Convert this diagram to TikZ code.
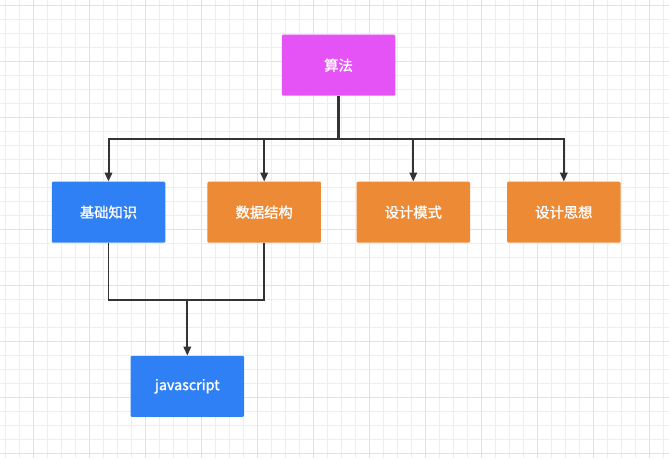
\documentclass[tikz,border=0pt]{standalone}
\usepackage{fontspec}
\setmainfont{Noto Sans CJK SC}
\newfontfamily\boxfont{Noto Sans CJK SC}[FakeBold=1.3]
\usetikzlibrary{arrows.meta}
\definecolor{gridlight}{HTML}{EEEEEE}
\definecolor{griddark}{HTML}{E2E2E2}
\definecolor{cmag}{HTML}{E552F5}
\definecolor{cblue}{HTML}{2F80F5}
\definecolor{corange}{HTML}{EC8A36}
\definecolor{cline}{HTML}{333333}
\tikzset{
  box/.style={minimum width=113.5pt, minimum height=61pt, inner sep=0pt,
    rounded corners=1.2pt, text=white, font=\boxfont\fontsize{14.3}{16}\selectfont},
  magbox/.style={box, fill=cmag},
  bluebox/.style={box, fill=cblue},
  orbox/.style={box, fill=corange},
  arr/.style={draw=cline, line width=2pt, -{Triangle[length=9pt,width=7.5pt]}},
  plainline/.style={draw=cline, line width=1.6pt},
  trunk/.style={draw=cline, line width=2.6pt},
}
\begin{document}
\begin{tikzpicture}[x=1pt,y=-1pt]
\fill[white] (0,0) rectangle (669,458);
\useasboundingbox (0,0) rectangle (669,458);
\foreach \i in {0,...,47} {
  \pgfmathtruncatemacro{\m}{mod(\i,4)}
  \ifnum\m=2 \def\gc{griddark}\else\def\gc{gridlight}\fi
  \draw[\gc, line width=0.8pt] (5+14*\i,0) -- (5+14*\i,458);
}
\foreach \j in {0,...,32} {
  \pgfmathtruncatemacro{\m}{mod(\j,4)}
  \ifnum\m=0 \def\gc{griddark}\else\def\gc{gridlight}\fi
  \draw[\gc, line width=0.8pt] (0,5.5+14*\j) -- (669,5.5+14*\j);
}
\node[magbox] (sf) at (338.5,65.2) {算法};
\node[bluebox] (jc) at (108.5,212.2) {基础知识};
\node[orbox] (sj) at (264.2,212.2) {数据结构};
\node[orbox] (ms) at (413.3,212.2) {设计模式};
\node[orbox] (sx) at (563.8,212.2) {设计思想};
\node[bluebox] (js) at (187.3,386.3) {javascript};
\coordinate (bus) at (338.5,138.5);
\coordinate (merge) at (187.3,300);
\draw[trunk] (sf.south) -- ([yshift=1pt]bus);
\draw[arr] (bus) -| (jc.north);
\draw[arr] (bus) -| (sj.north);
\draw[arr] (bus) -| (ms.north);
\draw[arr] (bus) -| (sx.north);
\draw[plainline] (jc.south) |- (merge) -| (sj.south);
\draw[arr] (merge) -- (js.north);
\end{tikzpicture}
\end{document}
